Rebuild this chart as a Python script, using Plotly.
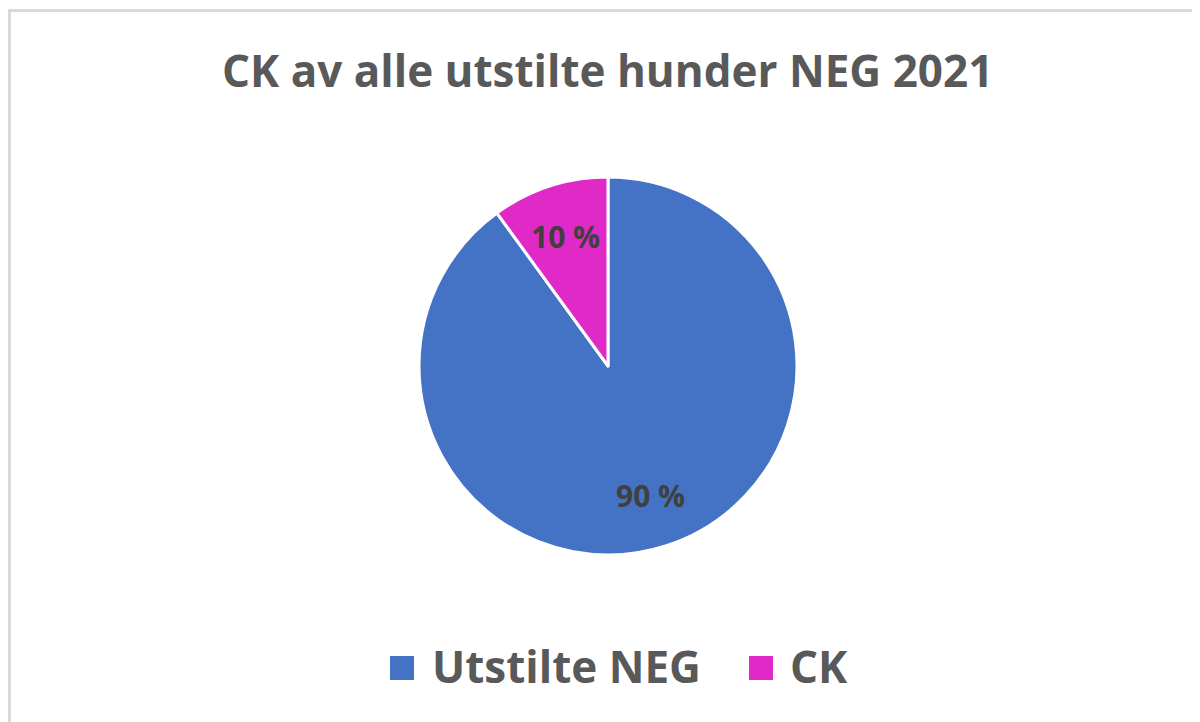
import math
import plotly.graph_objects as go

# Data
labels = ["Utstilte NEG", "CK"]
values = [90, 10]
colors = ["#4472C4", "#E02AC8"]
title_text = "CK av alle utstilte hunder NEG 2021"

W, H = 1200, 722
OFF = 8  # page body offset

def px(x):
    return (x - OFF) / W

def py(y):
    return 1 - (y - OFF) / H

FONT = "Open Sans"

# pie geometry (reference pixels)
CX, CY, R = 608, 366, 189

fig = go.Figure()
fig.add_trace(go.Pie(
    labels=labels,
    values=values,
    marker=dict(colors=colors, line=dict(color="white", width=3)),
    sort=False,
    direction="clockwise",
    rotation=0,
    textinfo="none",
    domain=dict(x=[px(CX - R), px(CX + R)], y=[py(CY + R), py(CY - R)]),
    showlegend=False,
    hoverinfo="label+percent",
))

shapes = [
    dict(type="rect", xref="paper", yref="paper",
         x0=px(9.5), x1=px(1230), y0=py(760), y1=py(10.5),
         line=dict(color="#D9D9D9", width=3), fillcolor="rgba(0,0,0,0)", layer="below"),
]
annotations = [
    dict(text=title_text, xref="paper", yref="paper", x=px(607), y=py(70),
         xanchor="center", yanchor="middle", showarrow=False,
         font=dict(family=FONT, size=44, color="#595959", weight="bold")),
]

# data labels, placed at each slice's mid angle
total = sum(values)
cum = 0
for v in values:
    mid = (cum + v / 2) / total * 2 * math.pi
    cum += v
    r = R * 0.72
    lx = CX + r * math.sin(mid)
    ly = CY - r * math.cos(mid)
    annotations.append(dict(text=f"{v:.0f} %", xref="paper", yref="paper",
                            x=px(lx), y=py(ly), xanchor="center", yanchor="middle",
                            showarrow=False,
                            font=dict(family=FONT, size=30, color="#404040", weight="bold")))

# Legend (manual, large squares)
leg_sq_x = [390, 749]
leg_tx_x = [433, 791]
for i, lab in enumerate(labels):
    shapes.append(dict(type="rect", xref="paper", yref="paper",
                       x0=px(leg_sq_x[i]), x1=px(leg_sq_x[i] + 24),
                       y0=py(680), y1=py(656),
                       line=dict(width=0), fillcolor=colors[i]))
    annotations.append(dict(text=lab, xref="paper", yref="paper",
                            x=px(leg_tx_x[i] - 3), y=py(666),
                            xanchor="left", yanchor="middle", showarrow=False,
                            font=dict(family=FONT, size=44, color="#595959", weight="bold")))

fig.update_layout(
    width=W, height=H,
    margin=dict(l=0, r=0, t=0, b=0),
    paper_bgcolor="white",
    plot_bgcolor="white",
    shapes=shapes,
    annotations=annotations,
)

fig.write_html("out.html")
